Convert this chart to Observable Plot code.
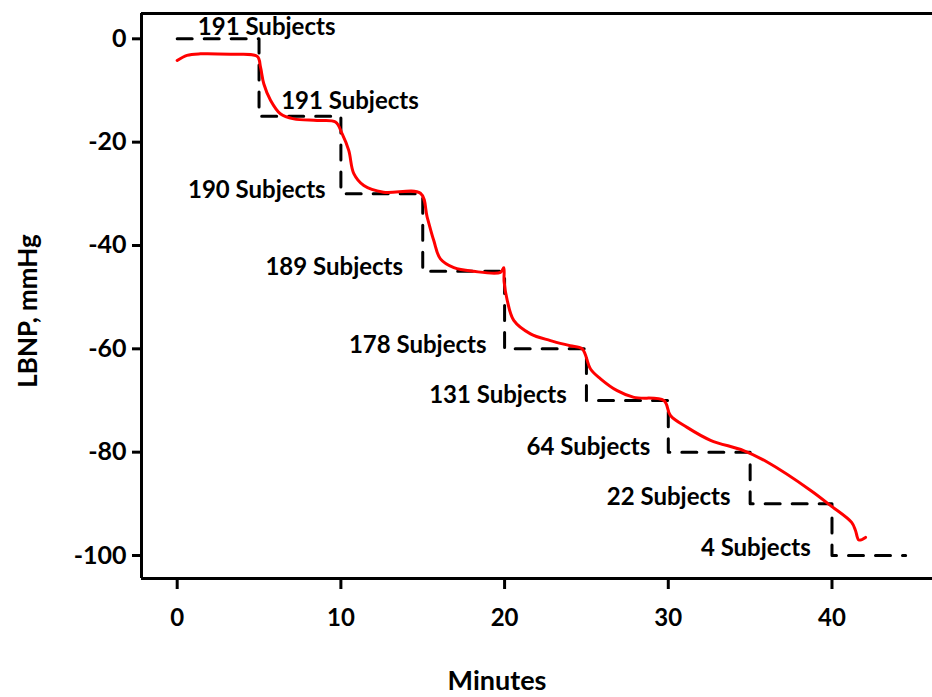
<!DOCTYPE html>
<html><head><meta charset="utf-8">
<script src="https://cdn.jsdelivr.net/npm/d3@7"></script>
<script src="https://cdn.jsdelivr.net/npm/@observablehq/plot@0.6"></script>
<style>body{margin:0;background:#fff} #chart svg{font-family:Lato,"Open Sans",sans-serif;font-weight:bold}</style>
</head><body><div id="chart"></div>
<script>
// Protocol stages (dashed step line): start minute of each stage and LBNP level
const stageMinutes = [0, 5, 10, 15, 20, 25, 30, 35, 40, 44.5];
const stageLBNP = [0, -15, -30, -45, -60, -70, -80, -90, -100, -100];

// Mean achieved LBNP (red curve)
const curveMinutes = [0, 0.6, 1.42, 3.26, 4.89, 5.09, 5.29, 5.7, 6.3, 7.12, 8.55, 9.67,
  10.08, 10.48, 10.79, 11.4, 12.6, 14.86, 15.27, 15.67, 16.08, 16.9, 18.1, 19.75, 19.95, 19.97,
  20.16, 20.56, 21.58, 22.8, 24.0, 24.74, 25.25, 25.86, 26.88, 27.9, 29.73, 30.13, 31.15,
  32.58, 34.6, 36.04, 38.7, 39.9, 41.2, 41.44, 41.64, 42.05];
const curveLBNP = [-4.2, -3.2, -2.9, -3.0, -3.4, -5.5, -8.7, -11.9, -14.5, -15.5, -15.8, -16.1,
  -18.4, -21.6, -26.1, -28.4, -29.7, -29.9, -34.5, -39.0, -42.6, -44.3, -45.0, -45.2, -44.3, -47.0,
  -50.6, -54.5, -57.1, -58.4, -59.4, -60.0, -63.9, -65.8, -68.1, -69.4, -70.0, -72.9, -75.2,
  -77.7, -79.7, -81.9, -87.4, -90.3, -93.6, -95.2, -97.0, -96.5];

// Subjects remaining at each stage
const subjectCounts = [191, 191, 190, 189, 178, 131, 64, 22, 4];
const labelMinutes = [9.67, 14.76, 9.07, 13.8, 18.9, 23.8, 28.9, 33.8, 38.7];
const labelLBNP = [2.3, -12.1, -29.4, -44.2, -59.4, -69.0, -79.0, -88.8, -98.7];

const xTicks = [0, 10, 20, 30, 40];
const yTicks = [0, -20, -40, -60, -80, -100];
const xDomain = [-2.18, 46.14];
const yDomain = [-104.45, 4.9];

const stages = stageMinutes.map((m, i) => ({m, v: stageLBNP[i]}));
const curve = curveMinutes.map((m, i) => ({m, v: curveLBNP[i]}));
const labels = subjectCounts.map((n, i) => ({text: `${n} Subjects`, m: labelMinutes[i], v: labelLBNP[i]}));

const chart = Plot.plot({
  width: 932,
  height: 697,
  marginLeft: 141,
  marginRight: 0,
  marginTop: 13,
  marginBottom: 119,
  x: {domain: xDomain},
  y: {domain: yDomain},
  marks: [
    Plot.ruleX([xDomain[0]], {stroke: "black", strokeWidth: 3}),
    Plot.ruleY([yDomain[0]], {stroke: "black", strokeWidth: 3}),
    Plot.ruleY([yDomain[1]], {stroke: "black", strokeWidth: 3}),
    Plot.axisX(xTicks, {anchor: "bottom", tickSize: 11, tickPadding: 19, strokeWidth: 3, fontSize: 24, fill: "black", label: null, tickFormat: d => String(d)}),
    Plot.axisY(yTicks, {anchor: "left", tickSize: 9, tickPadding: 6, strokeWidth: 3, fontSize: 25, fill: "black", label: null, tickFormat: d => String(d)}),
    Plot.line(stages, {x: "m", y: "v", curve: "step-after", stroke: "black", strokeWidth: 3, strokeDasharray: "15,12"}),
    Plot.line(curve, {x: "m", y: "v", curve: "catmull-rom", stroke: "#ff0000", strokeWidth: 3}),
    Plot.text(labels, {x: "m", y: "v", text: "text", textAnchor: "end", fontSize: 24, fill: "black"}),
    Plot.text(["Minutes"], {frameAnchor: "bottom", textAnchor: "middle", lineAnchor: "middle", dx: -40, dy: 103, fontSize: 27, fill: "black"}),
    Plot.text(["LBNP, mmHg"], {frameAnchor: "left", textAnchor: "middle", lineAnchor: "middle", rotate: -90, dx: -113, dy: 15, fontSize: 26, fill: "black"})
  ]
});
document.getElementById("chart").append(chart);
</script>
</body></html>
